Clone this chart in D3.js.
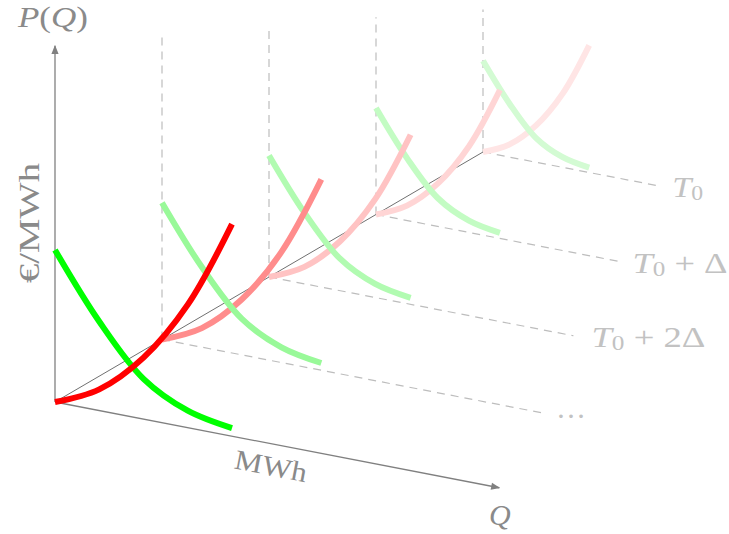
<!DOCTYPE html>
<html>
<head>
<meta charset="utf-8">
<script src="https://cdn.jsdelivr.net/npm/d3@7/dist/d3.min.js"></script>
<style>
  html, body { margin: 0; padding: 0; background: #fff; }
  svg { display: block; }
  .math { font-family: "Liberation Serif", "DejaVu Serif", serif; }
</style>
</head>
<body>
<svg id="chart" width="729" height="534"></svg>
<script>
// Quantity grid (MWh, arbitrary units) shared by every time slice
const quantities = [0, 25, 50, 75, 100];
// Supply (red) and demand (green) price curves, €/MWh
const supplyPrices = [0, 10, 29, 58, 100];
const demandPrices = [71.7, 42, 19, 8, 3.8];

// Time slices, drawn front (0) to back (4); farther slices shrink
const slices = [0, 1, 2, 3, 4];
const sliceScale = [1, 0.9, 0.8, 0.7, 0.6];
const sliceLabels = ["", "\u2026", "T\u2080 + 2\u0394", "T\u2080 + \u0394", "T\u2080"];
const supplyColors = ["#ff0000", "#ff8c8c", "#ffc3c3", "#ffd5d5", "#ffe5e5"];
const demandColors = ["#00ff00", "#99f999", "#b1fbb1", "#c3fcc3", "#d3fbd3"];
// Extent of the dashed guides for each slice (quantity / price units)
const guideQ = [null, 238, 215, 199, 165];
const guideP = [null, 159, 147, 133, 112];
// Axis extents on the front slice
const axisQmax = 251;
const axisPmax = 168;

const svg = d3.select("#chart");

// Oblique projection: quantity runs down-right, price up, time up-right
const origin = { x: 55, y: 402 };
const qx = d3.scaleLinear().domain([0, 100]).range([0, 177]);
const qSlope = 0.193;
const py = d3.scaleLinear().domain([0, 100]).range([0, 212]);
const tx = d3.scaleLinear().domain([0, 4]).range([0, 428]);
const ty = d3.scaleLinear().domain([0, 4]).range([0, -250]);

function proj(k, q, p) {
  const s = sliceScale[k] === undefined ? 1 : sliceScale[k];
  const dx = qx(q) * s;
  return [
    origin.x + tx(k) + dx,
    origin.y + ty(k) + dx * qSlope - py(p) * s
  ];
}

const line = d3.line().curve(d3.curveCatmullRom.alpha(0.5));

// Arrowhead marker
const defs = svg.append("defs");
defs.append("marker")
  .attr("id", "arrow")
  .attr("viewBox", "0 0 10 10")
  .attr("refX", 9).attr("refY", 5)
  .attr("markerWidth", 11).attr("markerHeight", 9)
  .attr("markerUnits", "userSpaceOnUse")
  .attr("orient", "auto")
  .append("path")
  .attr("d", "M0,1 L10,5 L0,9 Z")
  .attr("fill", "#808080");

// Dashed guides for the back slices
const guides = svg.append("g")
  .attr("fill", "none")
  .attr("stroke", "#bdbdbd")
  .attr("stroke-width", 1.2)
  .attr("stroke-dasharray", "8,6");

slices.filter(k => k > 0).forEach(k => {
  const o = proj(k, 0, 0);
  const top = proj(k, 0, guideP[k]);
  guides.append("line")
    .attr("x1", o[0]).attr("y1", o[1])
    .attr("x2", top[0]).attr("y2", top[1]);
  const e = proj(k, guideQ[k], 0);
  guides.append("line")
    .attr("x1", o[0]).attr("y1", o[1])
    .attr("x2", e[0]).attr("y2", e[1]);
});

// Time axis through the slice origins
const t0 = proj(0, 0, 0), t4 = proj(4, 0, 0);
svg.append("line")
  .attr("x1", t0[0]).attr("y1", t0[1])
  .attr("x2", t4[0]).attr("y2", t4[1])
  .attr("stroke", "#707070").attr("stroke-width", 1);

// Price and quantity axes
const axes = svg.append("g").attr("stroke", "#808080").attr("stroke-width", 1.3);
const pTop = proj(0, 0, axisPmax);
axes.append("line")
  .attr("x1", t0[0]).attr("y1", t0[1])
  .attr("x2", pTop[0]).attr("y2", pTop[1])
  .attr("marker-end", "url(#arrow)");
const qEnd = proj(0, axisQmax, 0);
axes.append("line")
  .attr("x1", t0[0]).attr("y1", t0[1])
  .attr("x2", qEnd[0]).attr("y2", qEnd[1])
  .attr("marker-end", "url(#arrow)");

// Supply and demand curves, back to front
const curves = svg.append("g")
  .attr("fill", "none")
  .attr("stroke-width", 6)
  .attr("stroke-linecap", "butt");

slices.slice().reverse().forEach(k => {
  const supply = quantities.map((q, i) => proj(k, q, supplyPrices[i]));
  const demand = quantities.map((q, i) => proj(k, q, demandPrices[i]));
  const order = k === 0 ? [["d", demand], ["s", supply]] : [["s", supply], ["d", demand]];
  order.forEach(([kind, pts]) => {
    curves.append("path")
      .attr("d", line(pts))
      .attr("stroke", kind === "s" ? supplyColors[k] : demandColors[k]);
  });
});

// Slice labels at the end of each dashed guide
const labelOffset = [0, 15, 18, 10, 14];
const labelWidth = [0, 30, 114, 95, 31];
const labelLift = [0, -6, 0, 0, 0];
slices.filter(k => k > 0).forEach(k => {
  const e = proj(k, guideQ[k], 0);
  const t = svg.append("text")
    .attr("class", "math")
    .attr("x", e[0] + labelOffset[k])
    .attr("y", e[1] + 1 + labelLift[k])
    .attr("dominant-baseline", "central")
    .attr("font-size", 29)
    .attr("fill", "#c2c2c2")
    .attr("textLength", labelWidth[k])
    .attr("lengthAdjust", "spacingAndGlyphs");
  if (k === 1) {
    t.text(sliceLabels[k]);
  } else {
    const parts = sliceLabels[k].split("\u2080");
    t.append("tspan").attr("font-style", "italic").text(parts[0]);
    t.append("tspan").attr("font-size", 20).attr("dy", 6).text("0");
    t.append("tspan").attr("dy", -6).text(parts[1]);
  }
});

// Axis titles
const pq = svg.append("text")
  .attr("class", "math")
  .attr("x", 18).attr("y", 27)
  .attr("font-size", 30)
  .attr("fill", "#8a8a8a")
  .attr("textLength", 70)
  .attr("lengthAdjust", "spacingAndGlyphs");
pq.append("tspan").attr("font-style", "italic").text("P");
pq.append("tspan").text("(");
pq.append("tspan").attr("font-style", "italic").text("Q");
pq.append("tspan").text(")");

svg.append("text")
  .attr("class", "math")
  .attr("x", 489).attr("y", 525)
  .attr("font-size", 30)
  .attr("font-style", "italic")
  .attr("fill", "#8a8a8a")
  .text("Q");

svg.append("text")
  .attr("class", "math")
  .attr("transform", "translate(271,466) rotate(11)")
  .attr("text-anchor", "middle")
  .attr("dominant-baseline", "central")
  .attr("font-size", 28)
  .attr("fill", "#8a8a8a")
  .attr("textLength", 73)
  .attr("lengthAdjust", "spacingAndGlyphs")
  .text("MWh");

svg.append("text")
  .attr("class", "math")
  .attr("transform", "translate(29,223) rotate(-90)")
  .attr("text-anchor", "middle")
  .attr("dominant-baseline", "central")
  .attr("font-size", 29)
  .attr("fill", "#8a8a8a")
  .attr("textLength", 120)
  .attr("lengthAdjust", "spacingAndGlyphs")
  .text("\u20ac/MWh");
</script>
</body>
</html>
